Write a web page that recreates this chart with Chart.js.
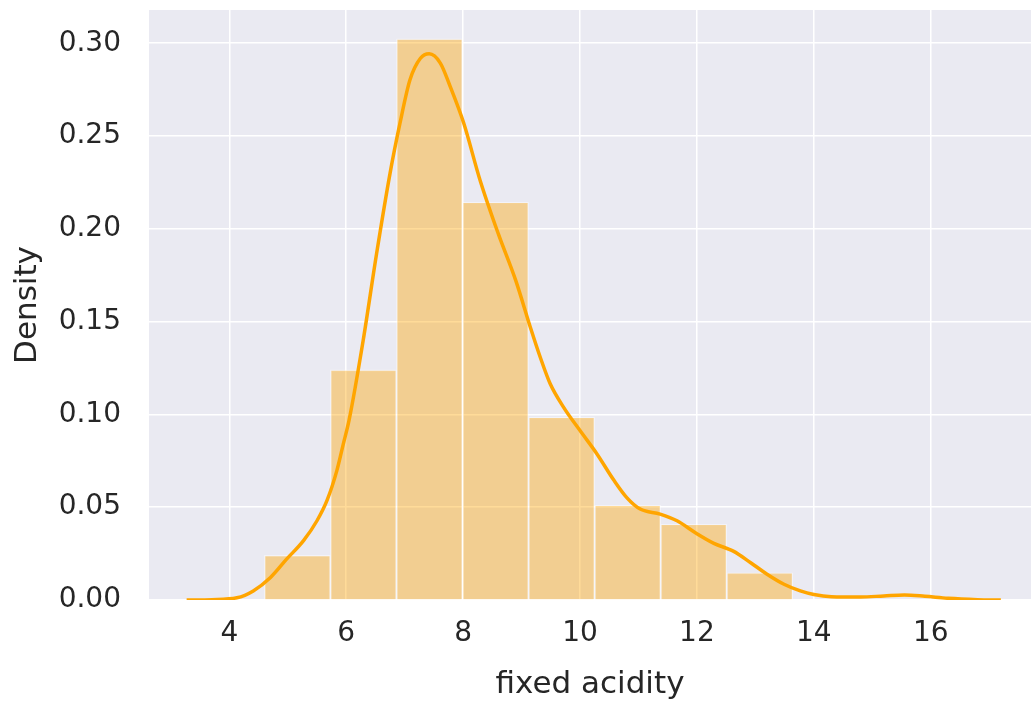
<!DOCTYPE html>
<html>
<head>
<meta charset="utf-8">
<script src="https://cdn.jsdelivr.net/npm/chart.js@4.4.1/dist/chart.umd.min.js"></script>
<style>
  html, body { margin: 0; padding: 0; background: #ffffff; }
  #wrap { width: 1031px; height: 705px; }
</style>
</head>
<body>
<div id="wrap"><canvas id="chart" width="1031" height="705"></canvas></div>
<script>
// histogram of fixed acidity: bin centres (bin width 1.13) and density per bin
const binCenters = [5.165, 6.295, 7.425, 8.555, 9.685, 10.815, 11.945, 13.075];
const binDensity = [0.0241, 0.1240, 0.3024, 0.2144, 0.0985, 0.0511, 0.0409, 0.0147];

// kernel density estimate sampled along the axis
const kdeX = [3.27, 3.7, 4.13, 4.41, 4.70, 4.98, 5.27, 5.50, 5.67, 5.84, 5.95, 6.05,
  6.29, 6.52, 6.75, 6.92, 7.09, 7.27, 7.42, 7.61, 7.78, 8.01, 8.29, 8.60, 8.90,
  9.15, 9.32, 9.49, 9.72, 10.0, 10.29, 10.58, 10.80, 11.03, 11.37, 11.66, 12.0,
  12.29, 12.63, 12.92, 13.2, 13.49, 13.77, 14.0, 14.3, 14.8, 15.2, 15.55, 15.9,
  16.3, 16.8, 17.2];
const kdeY = [0, 0.0002, 0.0012, 0.0049, 0.012, 0.022, 0.032, 0.0427, 0.0535, 0.0697, 0.084, 0.097,
  0.1398, 0.1867, 0.2299, 0.2569, 0.2802, 0.2919, 0.2943, 0.2893, 0.2766, 0.2570, 0.2262, 0.1975, 0.1722,
  0.1470, 0.1308, 0.1165, 0.1038, 0.0913, 0.0787, 0.0645, 0.0552, 0.0490, 0.0463, 0.0427, 0.0357,
  0.0305, 0.0262, 0.0201, 0.0139, 0.0085, 0.0049, 0.0030, 0.0018, 0.0016, 0.0022, 0.0027, 0.0020,
  0.0009, 0.0002, 0];

const xTicks = [4, 6, 8, 10, 12, 14, 16];
const yTicks = [0, 0.05, 0.10, 0.15, 0.20, 0.25, 0.30];

const FONT = "'DejaVu Sans', sans-serif";
const TEXT = '#262626';

// grey panel behind the plot area
const plotBackground = {
  id: 'plotBackground',
  beforeDraw(chart) {
    const { ctx, chartArea: a } = chart;
    ctx.save();
    ctx.fillStyle = '#eaeaf2';
    ctx.fillRect(a.left, a.top, a.right - a.left, a.bottom - a.top);
    ctx.restore();
  }
};

new Chart(document.getElementById('chart'), {
  type: 'bar',
  data: {
    datasets: [
      {
        type: 'line',
        order: 0,
        data: kdeX.map((x, i) => ({ x: x, y: kdeY[i] })),
        borderColor: '#ffa500',
        borderWidth: 3.5,
        pointRadius: 0,
        fill: false,
        tension: 0.4,
        cubicInterpolationMode: 'monotone'
      },
      {
        type: 'bar',
        order: 1,
        data: binCenters.map((x, i) => ({ x: x, y: binDensity[i] })),
        backgroundColor: 'rgba(255, 165, 0, 0.4)',
        borderColor: 'rgba(255, 255, 255, 0.45)',
        borderWidth: 1.2,
        barPercentage: 1,
        categoryPercentage: 1
      }
    ]
  },
  options: {
    responsive: false,
    animation: false,
    events: [],
    layout: { padding: { top: 10, right: 0, bottom: 0, left: 0 } },
    plugins: {
      legend: { display: false },
      tooltip: { enabled: false }
    },
    scales: {
      x: {
        type: 'linear',
        min: 2.626,
        max: 17.716,
        offset: false,
        border: { display: false },
        grid: { color: '#ffffff', lineWidth: 1.5, drawTicks: false, offset: false },
        ticks: {
          padding: 17,
          color: TEXT,
          font: { family: FONT, size: 28 },
          maxRotation: 0,
          callback: v => String(v)
        },
        title: {
          display: true,
          text: 'fixed acidity',
          color: TEXT,
          font: { family: FONT, size: 31 },
          padding: { top: 0, bottom: 1 }
        },
        afterBuildTicks: s => { s.ticks = xTicks.map(v => ({ value: v })); },
        afterFit: s => { s.height = 105; s.paddingLeft = 0; s.paddingRight = 0; }
      },
      y: {
        min: 0,
        max: 0.3179,
        border: { display: false },
        grid: { color: '#ffffff', lineWidth: 1.5, drawTicks: false },
        ticks: {
          padding: 28,
          color: TEXT,
          font: { family: FONT, size: 28 },
          callback: v => Number(v).toFixed(2)
        },
        title: {
          display: true,
          text: 'Density',
          color: TEXT,
          font: { family: FONT, size: 31 },
          padding: { top: 9, bottom: 0 }
        },
        afterBuildTicks: s => { s.ticks = yTicks.map(v => ({ value: v })); },
        afterFit: s => { s.width = 149; s.paddingTop = 0; s.paddingBottom = 0; }
      }
    }
  },
  plugins: [plotBackground]
});
</script>
</body>
</html>
